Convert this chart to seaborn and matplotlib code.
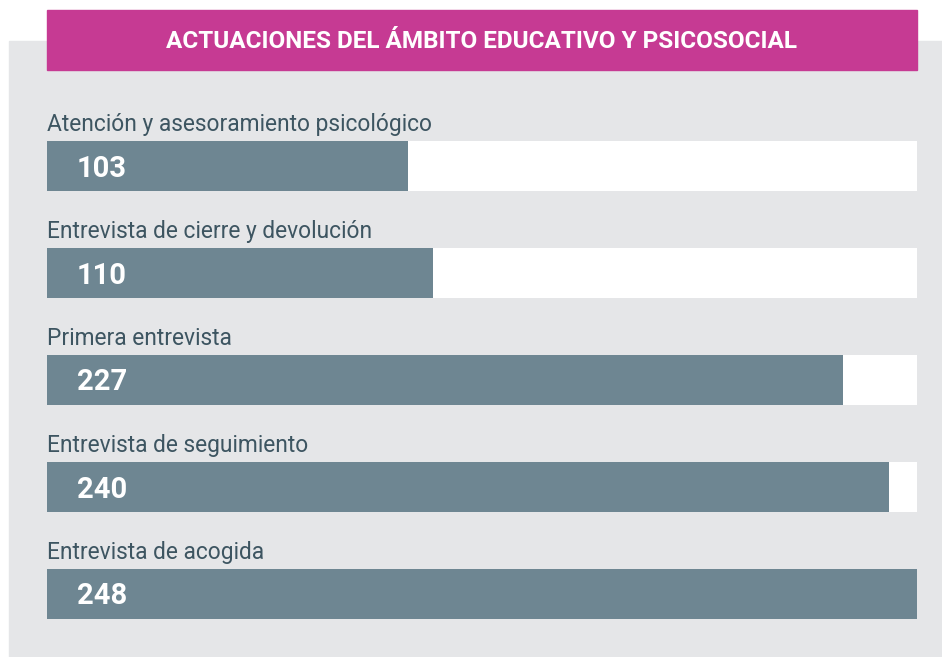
import matplotlib
matplotlib.use('Agg')
import matplotlib.pyplot as plt
import matplotlib.patches as mpatches
import seaborn as sns

categories = ['Atención y asesoramiento psicológico',
              'Entrevista de cierre y devolución',
              'Primera entrevista',
              'Entrevista de seguimiento',
              'Entrevista de acogida']
values = [103, 110, 227, 240, 248]
title = 'ACTUACIONES DEL ÁMBITO EDUCATIVO Y PSICOSOCIAL'

magenta = '#C63A93'
bar_col = '#6E8692'
panel = '#E5E6E8'
text_col = '#3D5561'

sns.set_theme(style='white')
plt.rcParams['font.family'] = ['Roboto', 'DejaVu Sans']

W, H = 942, 657
fig = plt.figure(figsize=(W / 100, H / 100), dpi=100)
fig.patch.set_facecolor('white')

# grey panel and magenta header
fig.patches.append(mpatches.Rectangle((9 / W, 0), 933 / W, 616 / H,
                                      transform=fig.transFigure, color=panel, zorder=0))
fig.patches.append(mpatches.Rectangle((47 / W, 1 - 70 / H), 870 / W, 60 / H,
                                      transform=fig.transFigure, color=magenta, zorder=1))
fig.text(482 / W, 1 - 42 / H, title, color='white', fontsize=17.5, fontweight='bold',
         ha='center', va='center', zorder=2)

ax = fig.add_axes([47 / W, 1 - 647.5 / H, 870 / W, 556.4 / H])
ax.set_zorder(5)
ax.patch.set_alpha(0)

bw = 50 / 107
vmax = max(values)
# white track behind each bar
sns.barplot(x=[vmax] * len(values), y=categories, orient='h', color='white',
            width=bw, saturation=1, linewidth=0, ax=ax)
sns.barplot(x=values, y=categories, orient='h', color=bar_col,
            width=bw, saturation=1, linewidth=0, ax=ax)

for i, (cat, v) in enumerate(zip(categories, values)):
    ax.text(0, i - bw / 2 - 0.095, cat, fontsize=16.4, color=text_col,
            ha='left', va='baseline')
    ax.annotate(str(v), xy=(0, i), xytext=(21.6, -1.8), textcoords='offset points',
                fontsize=21, fontweight='bold', color='white', ha='left', va='center')

ax.set_xlim(0, vmax)
ax.set_ylim(4.5, -0.7)
ax.axis('off')

fig.savefig('out.png', dpi=100)
